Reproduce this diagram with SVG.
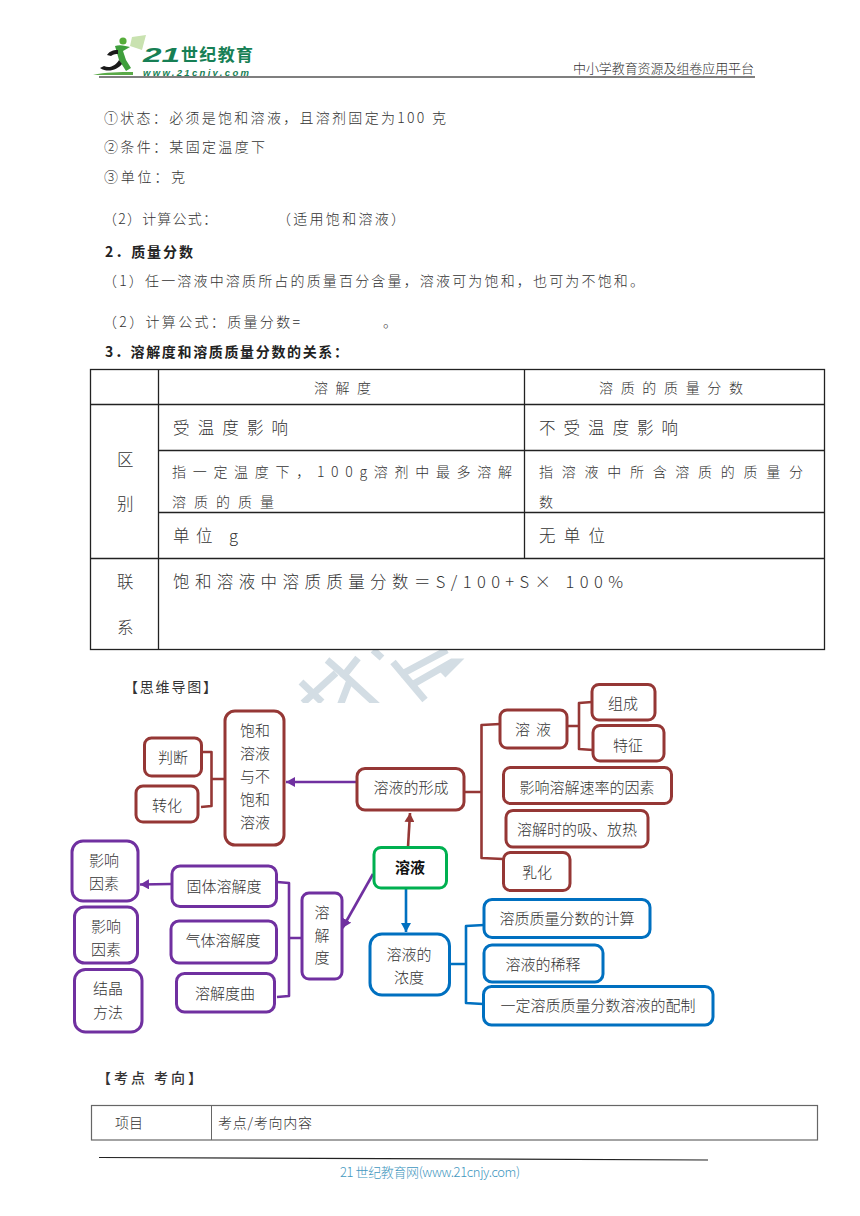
<svg xmlns="http://www.w3.org/2000/svg" width="860" height="1216" viewBox="0 0 860 1216">
<style>
text{font-family:"Noto Sans CJK SC","Liberation Sans",sans-serif;fill:#333;font-weight:300}
.b{font-size:14px}
.h{font-weight:700;fill:#222}
.s{font-size:14px}
.l{font-size:16.5px}
.n{font-size:15px;text-anchor:middle}
.box{fill:#fff;stroke-width:3}
.red{stroke:#953735}.pur{stroke:#7030a0}.grn{stroke:#00b050}.blu{stroke:#0070c0}
.grid{stroke:#222;stroke-width:1.3;fill:none}
.c{fill:none;stroke-width:2.6;stroke-linejoin:round}
.wm{stroke:#d3dde4;stroke-width:7;fill:none}
</style>
<defs>
<marker id="ap" markerUnits="userSpaceOnUse" markerWidth="10" markerHeight="10" refX="9" refY="5" orient="auto"><path d="M0,0L9,5L0,10Z" fill="#7030a0"/></marker>
<marker id="ar" markerUnits="userSpaceOnUse" markerWidth="10" markerHeight="10" refX="9" refY="5" orient="auto"><path d="M0,0L9,5L0,10Z" fill="#953735"/></marker>
<marker id="ab" markerUnits="userSpaceOnUse" markerWidth="10" markerHeight="10" refX="9" refY="5" orient="auto"><path d="M0,0L9,5L0,10Z" fill="#0070c0"/></marker>
<clipPath id="wmc"><rect x="280" y="650" width="200" height="53"/></clipPath>
</defs>
<rect width="860" height="1216" fill="#fff"/>

<g id="logo">
<path d="M132,37L146,35L142,50L130,46Z" fill="#c9e2b0"/>
<circle cx="123" cy="41" r="3.6" fill="#56ad3a"/>
<path d="M115,46C120,44 126,46 130,47L123,51L126,60L131,68L126,71L119,60Z" fill="#3f9f3c"/>
<path d="M118,50C112,50 109,52 107,55L111,56C114,54 116,54 118,54ZM119,60C116,65 110,69 104,66L100,68C108,73 117,70 122,64Z" fill="#1a1a1a"/>
<path d="M93,75C105,72 120,72 133,72L133,75Z" fill="#5aa948"/>
<text x="143" y="62" font-style="italic" style="font-family:'Liberation Sans',sans-serif;font-size:21px;font-weight:700;fill:#177f55" textLength="37" lengthAdjust="spacingAndGlyphs">21</text>
<text x="181" y="61" style="font-size:17px;font-weight:700;fill:#177f55" textLength="72">世纪教育</text>
<text x="143" y="76" font-style="italic" style="font-family:'Liberation Sans',sans-serif;font-size:9.500px;font-weight:700;fill:#177f55" textLength="106">www.21cnjy.com</text>
</g>
<text x="573" y="73" style="font-size:13px" textLength="181">中小学教育资源及组卷应用平台</text>
<line x1="99" y1="77" x2="755" y2="77" stroke="#7f7f7f" stroke-width="2"/>

<g id="body-text">
<text class="b" x="104" y="123" textLength="342">①状态：必须是饱和溶液，且溶剂固定为100 克</text>
<text class="b" x="104" y="152" textLength="161">②条件：某固定温度下</text>
<text class="b" x="104" y="182" textLength="81">③单位：克</text>
<text class="b" x="103" y="224" textLength="114">（2）计算公式：</text>
<text class="b" x="277" y="224" textLength="128">（适用饱和溶液）</text>
<text class="b h" x="105" y="257" textLength="88">2．质量分数</text>
<text class="b" x="103" y="286" textLength="541">（1）任一溶液中溶质所占的质量百分含量，溶液可为饱和，也可为不饱和。</text>
<text class="b" x="103" y="327" textLength="197">（2）计算公式：质量分数=</text>
<text class="b" x="383" y="327">。</text>
<text class="b h" x="105" y="357" textLength="243">3．溶解度和溶质质量分数的关系：</text>
</g>

<g id="watermark" clip-path="url(#wmc)">
<path class="wm" d="M301,682L322,702M303,703L336,673M327,660C345,675 360,690 378,706M358,658L342,678M340,706L350,680M373,650L382,658M393,662L425,700M400,675L447,650M410,686L452,662L456,662L443,675"/>
</g>

<g id="table1">
<rect class="grid" x="90.5" y="369.5" width="734" height="280"/>
<path class="grid" d="M90.5,404.5H824.5M158.5,450.5H824.5M158.5,512.5H824.5M90.5,558.5H824.5M158.5,369.5V649.5M524.5,369.5V558.5"/>
<text class="s" x="314" y="393" textLength="57">溶解度</text>
<text class="s" x="599" y="393" textLength="144">溶质的质量分数</text>
<text class="l" x="173" y="434" textLength="115">受温度影响</text>
<text class="l" x="539" y="434" textLength="139">不受温度影响</text>
<text class="s" x="172" y="477" textLength="340">指一定温度下，100g溶剂中最多溶解</text>
<text class="s" x="172" y="507" textLength="102">溶质的质量</text>
<text class="s" x="539" y="477" textLength="264">指溶液中所含溶质的质量分</text>
<text class="s" x="539" y="507">数</text>
<text class="l" x="173" y="542" textLength="65">单位 g</text>
<text class="l" x="539" y="542" textLength="66">无单位</text>
<text class="l" x="117" y="466">区</text>
<text class="l" x="117" y="510">别</text>
<text class="l" x="117" y="588">联</text>
<text class="l" x="117" y="634">系</text>
<text class="l" x="173" y="588" textLength="450">饱和溶液中溶质质量分数＝S/100+S× 100%</text>
</g>

<text class="b" x="124" y="692" textLength="93" style="font-weight:400">【思维导图】</text>

<g id="connectors">
<path class="c pur" d="M356,782H286" marker-end="url(#ap)"/>
<path class="c red" d="M202,752H211.5V806L201,807M211.5,779H224"/>
<path class="c pur" d="M171,884L140,884.5" marker-end="url(#ap)"/>
<path class="c pur" d="M277,882L289,883V996L277,997M289,938H302"/>
<path class="c pur" d="M373,874L342.5,928" marker-end="url(#ap)"/>
<path class="c red" d="M408,847L410,813" marker-end="url(#ar)"/>
<path class="c blu" d="M406,888V932" marker-end="url(#ab)"/>
<path class="c red" d="M464,792H481.5M500,724L481.5,725V858L503,859"/>
<path class="c red" d="M567,726H579M592,702L579,703V749L593,750"/>
<path class="c blu" d="M450,964H466M484,925L466,926V1003L483,1004"/>
</g>

<g id="n-bh"><rect class="box red" x="225" y="711" width="59" height="134" rx="10"/><text class="n" x="255" y="736">饱和</text><text class="n" x="255" y="759">溶液</text><text class="n" x="255" y="782">与不</text><text class="n" x="255" y="805">饱和</text><text class="n" x="255" y="828">溶液</text></g>
<g id="n-pd"><rect class="box red" x="144.500" y="738" width="57" height="38" rx="7"/><text class="n" x="173" y="763">判断</text></g>
<g id="n-zh"><rect class="box red" x="136" y="786" width="62" height="36" rx="7"/><text class="n" x="167" y="811">转化</text></g>
<g id="n-yx1"><rect class="box pur" x="72" y="841" width="66" height="60" rx="11"/><text class="n" x="104" y="866">影响</text><text class="n" x="104" y="889">因素</text></g>
<g id="n-yx2"><rect class="box pur" x="74.500" y="907" width="63" height="56" rx="10"/><text class="n" x="106" y="932">影响</text><text class="n" x="106" y="955">因素</text></g>
<g id="n-jj"><rect class="box pur" x="74.500" y="969.500" width="67.500" height="62.500" rx="11"/><text class="n" x="108" y="994">结晶</text><text class="n" x="108" y="1018">方法</text></g>
<g id="n-gt"><rect class="box pur" x="172" y="866" width="104.500" height="40.500" rx="8"/><text class="n" x="224" y="891.500">固体溶解度</text></g>
<g id="n-qt"><rect class="box pur" x="171" y="921" width="105.500" height="42" rx="8"/><text class="n" x="223" y="946">气体溶解度</text></g>
<g id="n-qx"><rect class="box pur" x="176.500" y="973.500" width="98" height="38.500" rx="8"/><text class="n" x="225" y="998.500">溶解度曲</text></g>
<g id="n-rjd"><rect class="box pur" x="302" y="893" width="40" height="86" rx="7"/><text class="n" x="322" y="917.500">溶</text><text class="n" x="322" y="940.500">解</text><text class="n" x="322" y="962.500">度</text></g>
<g id="n-xc"><rect class="box red" x="357" y="768.500" width="107" height="41.500" rx="8"/><text class="n" x="411" y="792.500">溶液的形成</text></g>
<g id="n-root"><rect class="box grn" x="374" y="847.500" width="72.500" height="40.500" rx="7"/><text class="n" x="410" y="872.500" style="font-weight:700;fill:#111">溶液</text></g>
<g id="n-nd"><rect class="box blu" x="370" y="934" width="79.500" height="61" rx="12"/><text class="n" x="409" y="959.500">溶液的</text><text class="n" x="409" y="982.500">浓度</text></g>
<g id="n-ry"><rect class="box red" x="500" y="710" width="67" height="38" rx="7"/><text class="n" x="533" y="734.500" textLength="36">溶  液</text></g>
<g id="n-zc"><rect class="box red" x="592" y="684.500" width="63" height="35.500" rx="7"/><text class="n" x="623" y="708.500">组成</text></g>
<g id="n-tz"><rect class="box red" x="593" y="725.500" width="71" height="35.500" rx="7"/><text class="n" x="628" y="750.500">特征</text></g>
<g id="n-sl"><rect class="box red" x="503.500" y="767.500" width="168" height="36" rx="7"/><text class="n" x="587" y="792.500">影响溶解速率的因素</text></g>
<g id="n-xf"><rect class="box red" x="506" y="810.500" width="142" height="36.500" rx="7"/><text class="n" x="577" y="834.500">溶解时的吸、放热</text></g>
<g id="n-rh"><rect class="box red" x="503.500" y="852.500" width="66.500" height="38" rx="7"/><text class="n" x="537" y="877.500">乳化</text></g>
<g id="n-js"><rect class="box blu" x="484" y="899.500" width="166" height="38" rx="8"/><text class="n" x="567" y="923.500">溶质质量分数的计算</text></g>
<g id="n-xs"><rect class="box blu" x="484" y="945" width="119" height="37" rx="8"/><text class="n" x="543" y="969.500">溶液的稀释</text></g>
<g id="n-pz"><rect class="box blu" x="483.500" y="986.500" width="229.500" height="38.500" rx="8"/><text class="n" x="598" y="1010.500">一定溶质质量分数溶液的配制</text></g>

<text class="b" x="97" y="1083" textLength="105" style="font-weight:500">【考点 考向】</text>
<g id="table2">
<rect x="91.500" y="1105.500" width="726" height="34.500" fill="none" stroke="#666" stroke-width="1.200"/>
<line x1="211.500" y1="1105.500" x2="211.500" y2="1140" stroke="#666" stroke-width="1"/>
<text class="b" x="115" y="1128">项目</text>
<text class="b" x="218" y="1128" textLength="94">考点/考向内容</text>
</g>
<line x1="99" y1="1157.500" x2="708" y2="1160" stroke="#222" stroke-width="1.200"/>
<text x="340" y="1177" style="font-size:13px;fill:#3f97c0" textLength="180">21 世纪教育网(www.21cnjy.com)</text>
</svg>
